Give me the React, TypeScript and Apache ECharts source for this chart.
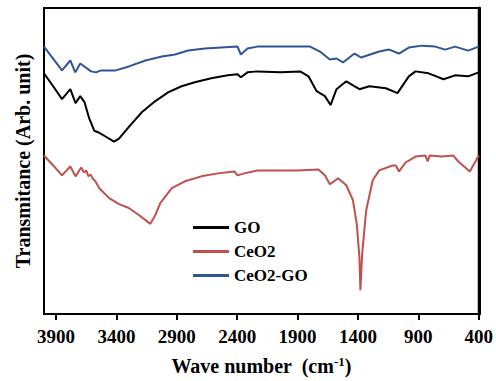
import React, { useEffect, useRef } from "react";
import * as echarts from "echarts";

// Wavenumber (cm-1) / transmittance (arbitrary units)
const goWave = [4000, 3924, 3851, 3782, 3739, 3700, 3665, 3624, 3583, 3542, 3487, 3420, 3379, 3297, 3188, 3078, 2969, 2861, 2751, 2615, 2478, 2397, 2370, 2315, 2233, 2042, 1879, 1810, 1742, 1674, 1627, 1578, 1497, 1388, 1306, 1169, 1073, 979, 924, 815, 692, 596, 488, 400];
const goVal = [243, 230, 217, 227, 213, 220, 214, 197, 185, 183, 179, 174, 177, 189, 204, 215, 224, 230, 234, 238, 241, 242, 239, 244, 245, 244, 245, 240, 225, 220, 211, 227, 235, 227, 230, 228, 223, 240, 245, 243, 237, 241, 240, 244];

const ceo2Wave = [4000, 3924, 3851, 3782, 3739, 3692, 3670, 3651, 3632, 3615, 3597, 3575, 3542, 3460, 3379, 3297, 3215, 3119, 3078, 3037, 2942, 2833, 2697, 2560, 2424, 2397, 2342, 2233, 1906, 1728, 1674, 1633, 1564, 1497, 1442, 1409, 1388, 1380, 1366, 1333, 1278, 1224, 1114, 1087, 1060, 1006, 924, 842, 823, 807, 705, 610, 569, 474, 400];
const ceo2Val = [160, 150, 140, 149, 139, 148, 143, 145, 139, 141, 137, 134, 127, 117, 111, 107, 100, 91, 100, 112, 127, 134, 139, 142, 144, 140, 142, 145, 145, 146, 140, 131, 137, 130, 115, 90, 57, 24, 60, 104, 135, 145, 150, 150, 144, 153, 159, 160, 154, 160, 159, 160, 154, 144, 160];

const ceo2goWave = [4000, 3851, 3782, 3741, 3700, 3610, 3569, 3528, 3406, 3297, 3160, 3024, 2915, 2806, 2669, 2533, 2397, 2370, 2315, 2233, 2178, 2042, 1797, 1715, 1633, 1578, 1524, 1429, 1374, 1224, 1142, 1060, 979, 869, 760, 678, 596, 488, 400];
const ceo2goVal = [270, 246, 256, 244, 253, 245, 244, 246, 246, 250, 256, 260, 262, 266, 268, 269, 270, 262, 268, 270, 270, 270, 270, 265, 257, 258, 254, 263, 259, 265, 267, 263, 269, 271, 270, 267, 270, 266, 270];

const seriesNames = ["GO", "CeO2", "CeO2-GO"];
const seriesColors = ["#000000", "#C0504D", "#2F5597"];
const tickValues = [400, 900, 1400, 1900, 2400, 2900, 3400, 3900];

const FONT = '"Liberation Serif", "Times New Roman", serif';

function pairs(x: number[], y: number[]) {
  return x.map((v, i) => [v, y[i]]);
}

export default function App() {
  const ref = useRef<HTMLDivElement>(null);
  useEffect(() => {
    if (!ref.current) return;
    const chart = echarts.init(ref.current, undefined, { renderer: "svg" });
    const data = [pairs(goWave, goVal), pairs(ceo2Wave, ceo2Val), pairs(ceo2goWave, ceo2goVal)];
    chart.setOption({
      animation: false,
      backgroundColor: "#ffffff",
      grid: {
        left: 44,
        right: 12,
        top: 8,
        bottom: 64,
        show: true,
        borderColor: "#000",
        borderWidth: 2,
      },
      legend: {
        orient: "vertical",
        left: 193,
        top: 219,
        padding: 0,
        itemWidth: 36,
        itemHeight: 3,
        itemGap: 7,
        icon: "rect",
        data: seriesNames,
        textStyle: { fontFamily: FONT, fontWeight: "bold", fontSize: 17, color: "#000" },
      },
      xAxis: {
        type: "value",
        min: 400,
        max: 4000,
        inverse: true,
        name: "Wave number  (cm{sup|-1})",
        nameLocation: "middle",
        nameGap: 41,
        nameTextStyle: {
          fontFamily: FONT,
          fontWeight: "bold",
          fontSize: 20,
          color: "#000",
          rich: {
            sup: { fontFamily: FONT, fontWeight: "bold", fontSize: 13, verticalAlign: "top", padding: [0, 0, 9, 0], color: "#000" },
          },
        },
        splitLine: { show: false },
        axisLine: { show: true, lineStyle: { color: "#000", width: 2 } },
        axisTick: { show: true, inside: false, length: 6, lineStyle: { color: "#000", width: 2 }, customValues: tickValues },
        axisLabel: {
          customValues: tickValues,
          formatter: (v: number) => String(v),
          margin: 13,
          fontFamily: FONT,
          fontWeight: "bold",
          fontSize: 19,
          color: "#000",
        },
      },
      yAxis: [
        {
          type: "value",
          min: 0,
          max: 309,
          name: "Transmitance (Arb. unit)",
          nameLocation: "middle",
          nameGap: 11,
          nameTextStyle: { fontFamily: FONT, fontWeight: "bold", fontSize: 20, color: "#000" },
          splitLine: { show: false },
          axisLine: { show: true, lineStyle: { color: "#000", width: 2 } },
          axisTick: { show: false },
          axisLabel: { show: false },
        },
        {
          type: "value",
          position: "right",
          min: 0,
          max: 309,
          splitLine: { show: false },
          axisLine: { show: true, lineStyle: { color: "#000", width: 3 } },
          axisTick: { show: false },
          axisLabel: { show: false },
        },
      ],
      series: seriesNames.map((name, i) => ({
        name,
        type: "line",
        yAxisIndex: 0,
        data: data[i],
        symbol: "none",
        showSymbol: false,
        color: seriesColors[i],
        lineStyle: { color: seriesColors[i], width: 2 },
        z: 3 - i,
      })),
    });
    return () => chart.dispose();
  }, []);
  return (
    <div
      ref={ref}
      style={{ position: "fixed", left: 0, top: 0, width: 496, height: 381, background: "#fff" }}
    />
  );
}
